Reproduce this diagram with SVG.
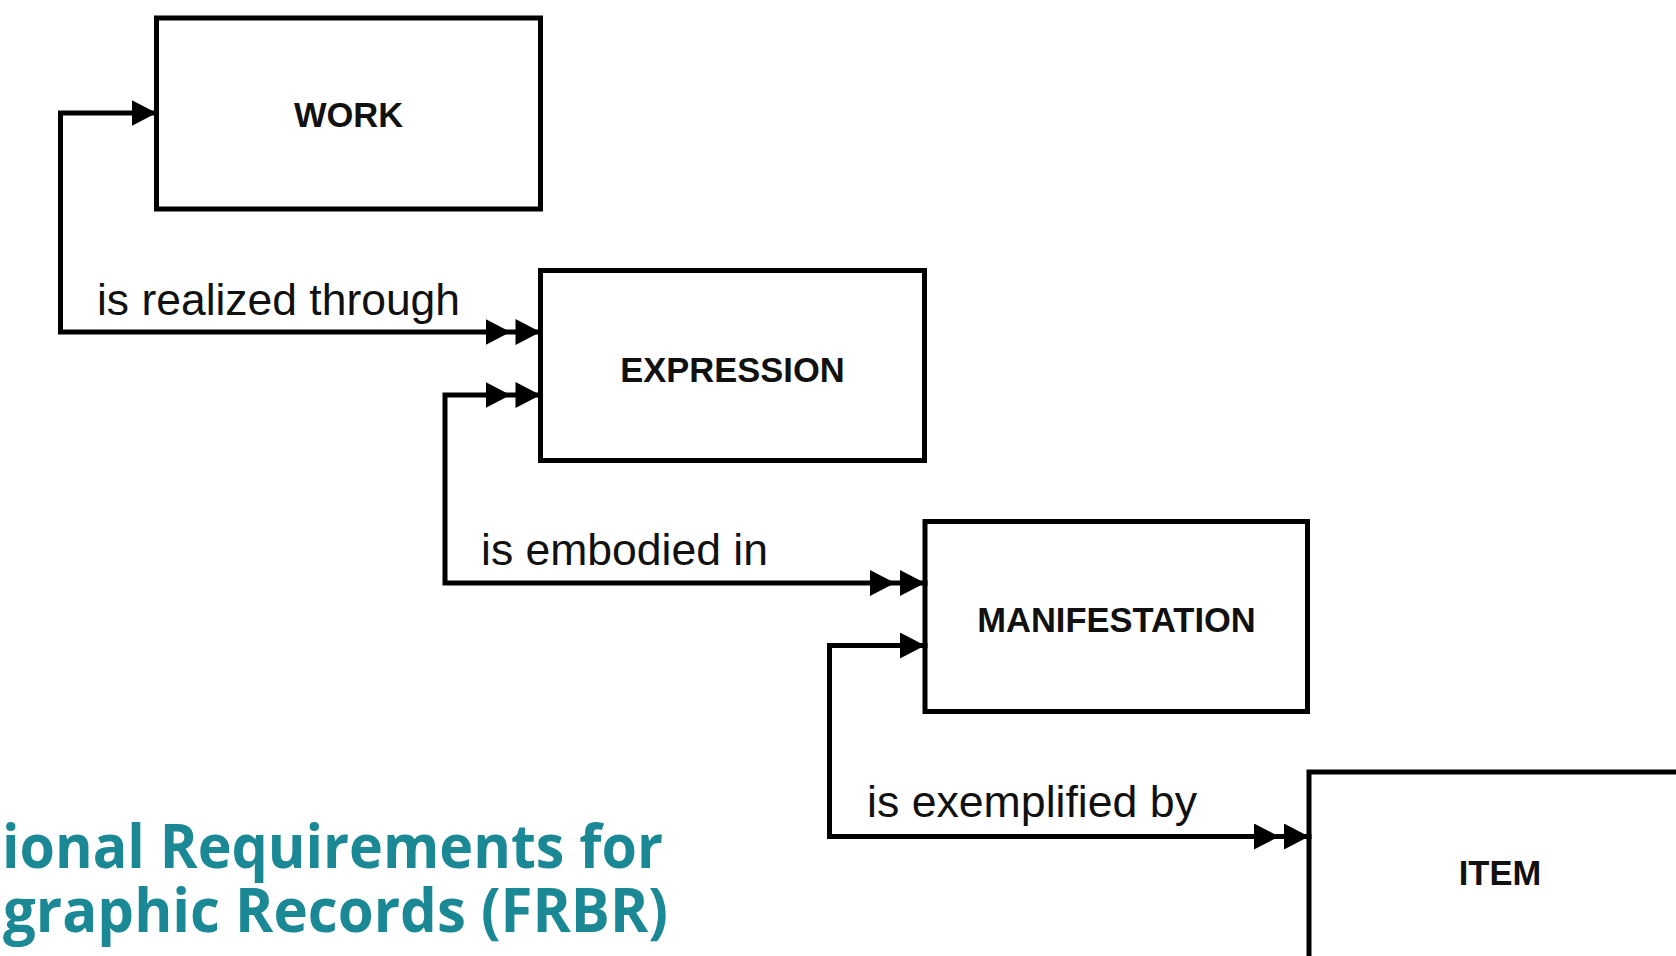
<svg xmlns="http://www.w3.org/2000/svg" width="1676" height="956" viewBox="0 0 1676 956">
  <style>
    .box { fill: #ffffff; stroke: #000000; stroke-width: 5; }
    .lbl { font-family: "Liberation Sans", Arial, sans-serif; font-weight: bold; font-size: 34.5px; fill: #111111; text-anchor: middle; }
    .rel { font-family: "Liberation Sans", Arial, sans-serif; font-size: 44px; fill: #111111; }
    .conn { fill: none; stroke: #000000; stroke-width: 5; stroke-linejoin: miter; stroke-linecap: square; }
    .title { font-family: "Open Sans", "Noto Sans", sans-serif; font-weight: bold; font-size: 60px; fill: #1b8896; }
  </style>
  <defs>
    <marker id="single" markerUnits="userSpaceOnUse" markerWidth="26" markerHeight="26" refX="25" refY="13" orient="auto-start-reverse" viewBox="0 0 26 26">
      <path d="M0,0 L25,13 L0,26 z" fill="#000000"/>
    </marker>
    <marker id="double" markerUnits="userSpaceOnUse" markerWidth="56" markerHeight="26" refX="55" refY="13" orient="auto-start-reverse" viewBox="0 0 56 26">
      <path d="M0,0 L25,13 L0,26 z M30,0 L55,13 L30,26 z" fill="#000000"/>
    </marker>
  </defs>
  <rect x="0" y="0" width="1676" height="956" fill="#ffffff"/>

  <g id="title">
    <text class="title" x="2" y="868" textLength="661" lengthAdjust="spacingAndGlyphs">ional Requirements for</text>
    <text class="title" x="3" y="932" textLength="665" lengthAdjust="spacingAndGlyphs">graphic Records (FRBR)</text>
  </g>

  <g id="work">
    <rect class="box" x="156.5" y="18" width="384" height="191"/>
    <text class="lbl" x="348.5" y="127">WORK</text>
  </g>
  <g id="expression">
    <rect class="box" x="540.5" y="270.5" width="384" height="190"/>
    <text class="lbl" x="732.5" y="382">EXPRESSION</text>
  </g>
  <g id="manifestation">
    <rect class="box" x="925" y="521.5" width="382.5" height="190"/>
    <text class="lbl" x="1116.5" y="632">MANIFESTATION</text>
  </g>
  <g id="item">
    <rect class="box" x="1309" y="772" width="384" height="190"/>
    <text class="lbl" x="1500" y="885">ITEM</text>
  </g>

  <g id="connectors">
    <path class="conn" d="M156.5,113 H60.5 V332 H540.5" marker-start="url(#single)" marker-end="url(#double)"/>
    <text class="rel" x="97" y="315" textLength="363" lengthAdjust="spacingAndGlyphs">is realized through</text>
    <path class="conn" d="M540.5,395 H445 V583 H925" marker-start="url(#double)" marker-end="url(#double)"/>
    <text class="rel" x="481" y="565" textLength="287" lengthAdjust="spacingAndGlyphs">is embodied in</text>
    <path class="conn" d="M925,645.5 H829.5 V836.5 H1309" marker-start="url(#single)" marker-end="url(#double)"/>
    <text class="rel" x="867" y="817" textLength="330" lengthAdjust="spacingAndGlyphs">is exemplified by</text>
  </g>
</svg>
